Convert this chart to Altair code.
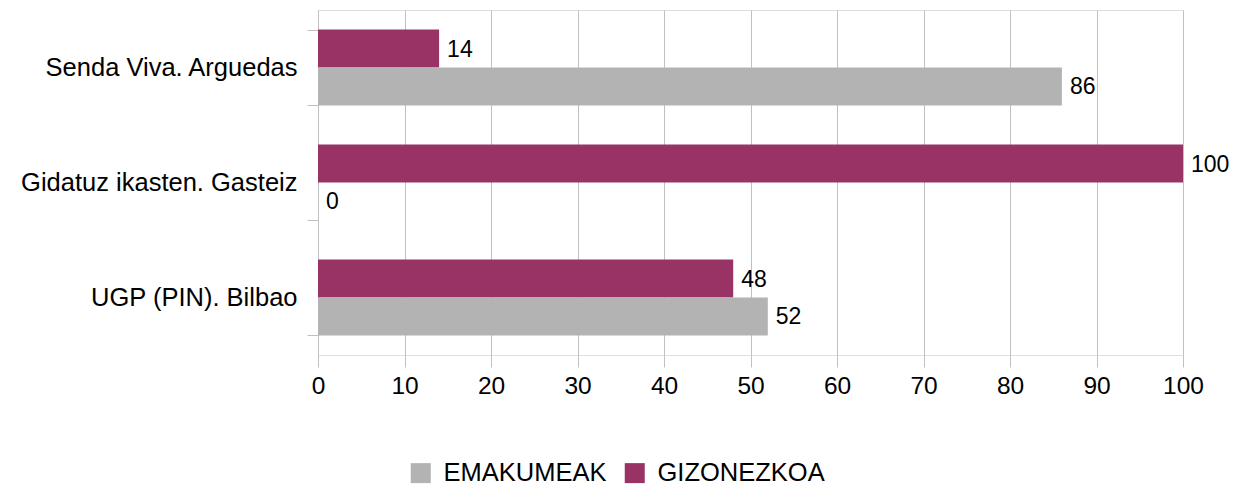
import altair as alt
import pandas as pd

categories = ["Senda Viva. Arguedas", "Gidatuz ikasten. Gasteiz", "UGP (PIN). Bilbao"]
series = ["EMAKUMEAK", "GIZONEZKOA"]
emakumeak = [86, 0, 52]
gizonezkoa = [14, 100, 48]

rows = []
for c, e, g in zip(categories, emakumeak, gizonezkoa):
    rows.append({"cat": c, "serie": "GIZONEZKOA", "val": g})
    rows.append({"cat": c, "serie": "EMAKUMEAK", "val": e})
df = pd.DataFrame(rows)

FONT = "Liberation Sans"
GRID = "#c0c0c0"

y = alt.Y("cat:N", sort=categories, title=None,
          scale=alt.Scale(paddingInner=0.34, paddingOuter=0.17),
          axis=alt.Axis(tickBand="extent", domainColor=GRID, tickColor=GRID,
                        tickSize=11, labelFontSize=25.5, labelFont=FONT,
                        labelColor="#000000", labelPadding=10, labelLimit=400))
yoff = alt.YOffset("serie:N", sort=["GIZONEZKOA", "EMAKUMEAK"],
                   scale=alt.Scale(paddingInner=0, paddingOuter=0))
x = alt.X("val:Q", title=None,
          scale=alt.Scale(domain=[0, 100], nice=False),
          axis=alt.Axis(values=list(range(0, 101, 10)), grid=True, gridColor=GRID,
                        domain=False, tickColor=GRID, tickSize=12,
                        labelFontSize=24.5, labelFont=FONT, labelColor="#000000",
                        labelPadding=7, labelFlush=False))
color = alt.Color("serie:N",
                  scale=alt.Scale(domain=series, range=["#b3b3b3", "#993366"]),
                  legend=alt.Legend(title=None, orient="none", direction="horizontal",
                                    legendX=90, legendY=450, symbolType="square",
                                    symbolSize=400, symbolStrokeWidth=0,
                                    labelFontSize=25.5, labelFont=FONT, labelLimit=400,
                                    labelColor="#000000", columnPadding=15,
                                    labelOffset=10))

bars = alt.Chart(df).mark_bar(opacity=1).encode(x=x, y=y, yOffset=yoff, color=color)
text = alt.Chart(df).mark_text(align="left", baseline="middle", dx=8, dy=1,
                               fontSize=23, font=FONT, color="#000000").encode(
    x=alt.X("val:Q"), y=alt.Y("cat:N", sort=categories), yOffset=yoff,
    text=alt.Text("val:Q"))

chart = (bars + text).properties(
    width=865, height=345,
    autosize=alt.AutoSizeParams(type="none"),
    padding={"left": 310, "top": 2, "right": 48, "bottom": 132},
).configure_view(stroke=None).configure(background="#ffffff")

chart.save("out.html", embed_options={"renderer": "svg", "actions": False})
